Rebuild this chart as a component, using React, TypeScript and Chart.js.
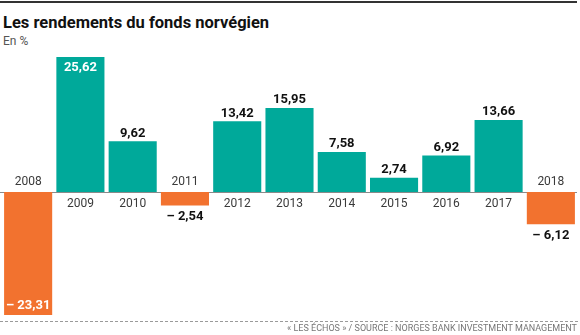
import React, { useEffect, useRef } from "react";
import { Chart, registerables } from "chart.js";

Chart.register(...registerables);

const years: string[] = ["2008", "2009", "2010", "2011", "2012", "2013", "2014", "2015", "2016", "2017", "2018"];
const returns: number[] = [-23.31, 25.62, 9.62, -2.54, 13.42, 15.95, 7.58, 2.74, 6.92, 13.66, -6.12];
const insideLabels: string[] = ["2008", "2009"];

const TEAL = "#00a99a";
const ORANGE = "#f2722f";
const FONT = "Roboto, 'Liberation Sans', sans-serif";

function fmt(v: number): string {
  const s = Math.abs(v).toFixed(2).replace(".", ",");
  return v < 0 ? "\u2013 " + s : s;
}

const labelPlugin = {
  id: "barLabels",
  beforeDatasetsDraw(chart: any) {
    const { ctx } = chart;
    const y = chart.scales.y;
    const y0 = Math.round(y.getPixelForValue(0)) + 0.5;
    ctx.save();
    ctx.strokeStyle = "#8a8a8a";
    ctx.lineWidth = 1;
    ctx.beginPath();
    ctx.moveTo(0, y0);
    ctx.lineTo(577, y0);
    ctx.stroke();
    ctx.restore();
  },
  afterDatasetsDraw(chart: any) {
    const { ctx } = chart;
    const meta = chart.getDatasetMeta(0);
    const yScale = chart.scales.y;
    const zero = yScale.getPixelForValue(0);
    ctx.save();
    ctx.textAlign = "center";
    ctx.textBaseline = "middle";
    meta.data.forEach((bar: any, i: number) => {
      const v = returns[i];
      const x = bar.x;
      const top = yScale.getPixelForValue(v);
      ctx.font = `400 12px ${FONT}`;
      ctx.fillStyle = "#3a3a3a";
      ctx.fillText(years[i], x, v >= 0 ? zero + 12 : zero - 10);
      ctx.font = `700 13px ${FONT}`;
      const inside = insideLabels.includes(years[i]);
      if (inside) {
        ctx.fillStyle = "#ffffff";
        ctx.fillText(fmt(v), x, v >= 0 ? top + 11 : top - 9);
      } else {
        ctx.fillStyle = "#111111";
        ctx.fillText(fmt(v), x, v >= 0 ? top - 8 : top + 11);
      }
    });
    ctx.restore();
  },
};

export default function App() {
  const ref = useRef<HTMLCanvasElement | null>(null);

  useEffect(() => {
    if (!ref.current) return;
    const chart = new Chart(ref.current, {
      type: "bar",
      data: {
        labels: years,
        datasets: [
          {
            data: returns,
            backgroundColor: returns.map((v) => (v >= 0 ? TEAL : ORANGE)),
            borderWidth: 0,
            categoryPercentage: 1,
            barPercentage: 0.92,
          },
        ],
      },
      options: {
        animation: false,
        responsive: false,
        devicePixelRatio: 1,
        layout: { padding: { left: 2, right: 3, top: 57, bottom: 20 } },
        plugins: {
          legend: { display: false },
          tooltip: { enabled: false },
          title: { display: false },
        },
        scales: {
          x: { display: false, offset: true, grid: { display: false } },
          y: { display: false, min: -23.31, max: 25.62 },
        },
      },
      plugins: [labelPlugin],
    });
    return () => chart.destroy();
  }, []);

  return (
    <div
      style={{
        position: "fixed",
        left: 0,
        top: 0,
        width: 580,
        height: 335,
        background: "#ffffff",
        fontFamily: FONT,
        overflow: "hidden",
      }}
    >
      <div style={{ position: "absolute", left: 0, top: 1, width: 577, height: 2, background: "#333333" }} />
      <div
        style={{
          position: "absolute",
          left: 3,
          top: 15,
          fontSize: 16.5,
          lineHeight: "16px",
          fontWeight: 700,
          color: "#111111",
          whiteSpace: "nowrap",
        }}
      >
        Les rendements du fonds norvégien
      </div>
      <div
        style={{
          position: "absolute",
          left: 3,
          top: 35,
          fontSize: 12,
          lineHeight: "12px",
          color: "#555555",
          whiteSpace: "nowrap",
        }}
      >
        En %
      </div>
      <canvas
        ref={ref}
        width={580}
        height={335}
        style={{ position: "absolute", left: 0, top: 0, width: 580, height: 335 }}
      />
      <div
        style={{
          position: "absolute",
          left: 0,
          top: 321,
          width: 580,
          height: 1,
          background: "repeating-linear-gradient(to right, #9a9a9a 0 3px, transparent 3px 5px)",
        }}
      />
      <div
        style={{
          position: "absolute",
          right: 3,
          top: 324,
          fontSize: 9,
          lineHeight: "9px",
          color: "#777777",
          whiteSpace: "nowrap",
        }}
      >
        « LES ÉCHOS » / SOURCE : NORGES BANK INVESTMENT MANAGEMENT
      </div>
    </div>
  );
}
